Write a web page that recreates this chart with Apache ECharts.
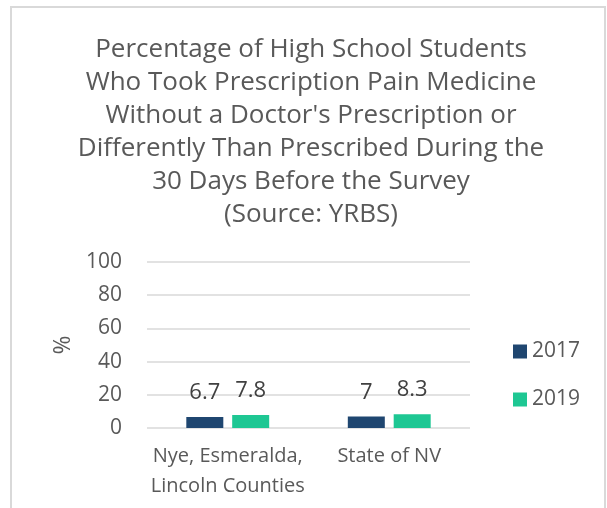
<!DOCTYPE html>
<html>
<head>
<meta charset="utf-8">
<script src="https://cdn.jsdelivr.net/npm/echarts@6/dist/echarts.min.js"></script>
<style>
  html, body { margin: 0; padding: 0; background: #fff; }
  #chart { width: 607px; height: 508px; }
</style>
</head>
<body>
<div id="chart"></div>
<script>
// data
var categories = ['Nye, Esmeralda,\nLincoln Counties', 'State of NV'];
var years = ['2017', '2019'];
var values2017 = [6.7, 7.0];
var values2019 = [7.8, 8.3];
var yTicks = [0, 20, 40, 60, 80, 100];

var chartDom = document.getElementById('chart');
var myChart = echarts.init(chartDom);
var textColor = '#595959';
var fontFam = '"Open Sans", sans-serif';

var option = {
    animation: false,
    textStyle: { fontFamily: fontFam },
    title: {
        text: 'Percentage of High School Students\nWho Took Prescription Pain Medicine\nWithout a Doctor\'s Prescription or\nDifferently Than Prescribed During the\n30 Days Before the Survey\n(Source: YRBS)',
        left: 306,
        top: 28,
        textAlign: 'center',
        textStyle: {
            fontFamily: fontFam,
            fontWeight: 'normal',
            fontSize: 26,
            lineHeight: 33,
            color: textColor
        }
    },
    graphic: [{
        type: 'rect',
        shape: { x: 11, y: 7, width: 594, height: 530 },
        style: { fill: 'none', stroke: '#d9d9d9', lineWidth: 2 },
        silent: true
    }],
    legend: {
        orient: 'vertical',
        left: 508,
        top: 336,
        itemWidth: 14,
        itemHeight: 14,
        itemGap: 27,
        icon: 'rect',
        textStyle: { fontFamily: fontFam, fontSize: 21, color: textColor },
        data: years
    },
    grid: {
        left: 147,
        right: 137,
        top: 262,
        bottom: 80,
        containLabel: false
    },
    xAxis: {
        type: 'category',
        data: categories,
        axisLine: { show: false },
        axisTick: { show: false },
        axisLabel: {
            fontFamily: fontFam,
            fontSize: 20,
            lineHeight: 30,
            color: textColor,
            margin: 13,
            interval: 0
        }
    },
    yAxis: {
        type: 'value',
        min: yTicks[0],
        max: yTicks[yTicks.length - 1],
        interval: yTicks[1] - yTicks[0],
        name: '%',
        nameLocation: 'middle',
        nameGap: 72,
        nameRotate: 90,
        nameTextStyle: { fontFamily: fontFam, fontSize: 23, color: textColor },
        axisLine: { show: false },
        axisTick: { show: false },
        axisLabel: { fontFamily: fontFam, fontSize: 21, color: textColor, margin: 25 },
        splitLine: { lineStyle: { color: '#d9d9d9', width: 1.5 } }
    },
    series: [
        {
            name: years[0],
            type: 'bar',
            data: values2017,
            barWidth: 37,
            barGap: '24%',
            itemStyle: { color: '#1F4670' },
            label: {
                show: true, position: 'top', distance: 13,
                fontFamily: fontFam, fontSize: 22, color: '#404040'
            }
        },
        {
            name: years[1],
            type: 'bar',
            data: values2019,
            barWidth: 37,
            itemStyle: { color: '#1EC793' },
            label: {
                show: true, position: 'top', distance: 13,
                fontFamily: fontFam, fontSize: 22, color: '#404040'
            }
        }
    ]
};

option && myChart.setOption(option);
</script>
</body>
</html>
